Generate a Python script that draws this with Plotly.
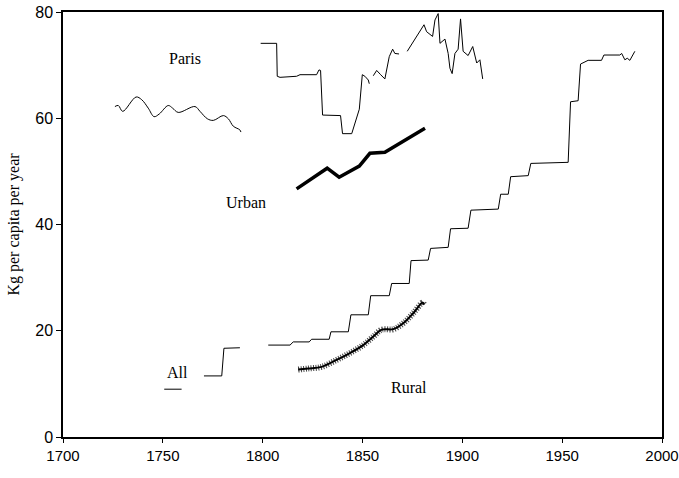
import plotly.graph_objects as go

# Paris, early series (smooth)
paris_early_years = [1726.0, 1727.7, 1729.9, 1736.6, 1739.4, 1742.7, 1745.6, 1748.2, 1752.7, 1754.9,
                     1757.7, 1766.1, 1768.6, 1772.3, 1775.3, 1780.3, 1782.8, 1785.3, 1788.6, 1789.1]
paris_early_vals = [62.2, 62.4, 61.3, 64.0, 63.5, 61.9, 60.3, 60.8, 62.4, 61.9,
                    61.1, 62.2, 61.3, 59.9, 59.6, 60.5, 59.9, 58.5, 57.8, 57.4]

# Paris, 19th century series (three pieces, None = gap)
paris_late_years = [1799.0, 1807.0, 1807.3, 1808.7, 1817.0, 1818.7, 1827.0, 1828.2, 1829.0, 1830.0,
                    1839.0, 1840.0, 1844.6, 1846.7, 1848.4, 1849.9, 1851.2, 1852.9, 1853.4, None,
                    1855.4, 1857.1, 1859.1, 1861.2, 1863.4, 1865.1, 1866.2, 1868.3, None,
                    1872.4, 1880.8, 1882.1, 1885.1, 1886.3, 1887.9, 1888.8, 1891.3, 1892.9, 1893.8,
                    1894.9, 1896.3, 1897.9, 1899.1, 1900.4, 1902.9, 1905.2, 1907.2, 1908.8, 1910.2]
paris_late_vals = [74.1, 74.1, 67.9, 67.7, 67.9, 68.2, 68.2, 69.1, 69.0, 60.6,
                   60.5, 57.1, 57.1, 59.7, 61.7, 68.2, 67.9, 67.2, 66.5, None,
                   68.0, 69.0, 68.2, 67.4, 71.6, 73.0, 72.2, 72.1, None,
                   72.6, 77.6, 76.3, 75.4, 78.5, 79.7, 74.1, 74.9, 72.2, 69.4,
                   68.4, 72.2, 73.0, 78.7, 72.6, 71.8, 73.5, 70.4, 71.0, 67.4]

# Urban
urban_years = [1817.0, 1832.3, 1838.3, 1848.4, 1853.7, 1861.2, 1881.3]
urban_vals = [46.7, 50.6, 48.9, 51.0, 53.4, 53.6, 58.1]

# Rural
rural_years = [1817.8, 1822.8, 1829.5, 1837.0, 1843.7, 1850.4, 1855.4, 1859.6, 1865.4,
               1870.4, 1875.4, 1880.1, 1880.8]
rural_vals = [12.7, 12.9, 13.2, 14.5, 15.8, 17.3, 18.9, 20.2, 20.3, 21.4, 23.3, 25.3, 24.9]

# All (stepped, with gaps)
all_years = [1750.7, 1759.4, None,
             1770.6, 1779.5, 1780.6, 1788.6, None,
             1802.8, 1813.7, 1815.3, 1823.3, 1824.5, 1833.3, 1834.2, 1842.9, 1844.2, 1852.9,
             1854.1, 1863.4, 1864.6, 1873.4, 1874.3, 1882.9, 1884.1, 1892.9, 1894.1, 1902.9,
             1904.3, 1918.0, 1919.2, 1923.0, 1924.2, 1933.0, 1934.3, 1953.0, 1954.2, 1958.0,
             1959.2, 1963.0, 1969.7, 1970.9, 1978.9, 1979.8, 1981.4, 1982.6, 1983.9, 1985.3, 1986.4]
all_vals = [9.0, 9.0, None,
            11.5, 11.5, 16.7, 16.8, None,
            17.3, 17.3, 17.9, 17.9, 18.4, 18.4, 19.8, 19.8, 23.0, 23.0,
            26.6, 26.6, 28.9, 28.9, 33.2, 33.3, 35.5, 35.7, 39.2, 39.3,
            42.7, 42.9, 45.7, 45.7, 49.0, 49.2, 51.5, 51.7, 63.1, 63.3,
            70.2, 70.9, 70.9, 71.9, 71.9, 72.2, 71.0, 71.3, 70.9, 71.9, 72.6]

labels = ['Paris', 'Urban', 'All', 'Rural']
label_x = [1761.0, 1791.5, 1757.5, 1873.5]
label_y = [71.3, 44.1, 12.1, 9.3]

fig = go.Figure()

fig.add_trace(go.Scatter(x=paris_early_years, y=paris_early_vals, mode='lines',
                         line=dict(color='black', width=1, shape='spline')))
fig.add_trace(go.Scatter(x=paris_late_years, y=paris_late_vals, mode='lines',
                         line=dict(color='black', width=1), connectgaps=False))
fig.add_trace(go.Scatter(x=urban_years, y=urban_vals, mode='lines',
                         line=dict(color='black', width=3.5)))
# rural: hatched look = dashed wide underlay + solid core
fig.add_trace(go.Scatter(x=rural_years, y=rural_vals, mode='lines',
                         line=dict(color='#444444', width=6, dash='1px,1.5px', shape='spline')))
fig.add_trace(go.Scatter(x=rural_years, y=rural_vals, mode='lines',
                         line=dict(color='black', width=2, shape='spline')))
fig.add_trace(go.Scatter(x=all_years, y=all_vals, mode='lines',
                         line=dict(color='black', width=1), connectgaps=False))

for txt, lx, ly in zip(labels, label_x, label_y):
    fig.add_annotation(x=lx, y=ly, text=txt, showarrow=False,
                       font=dict(family='Liberation Serif', size=16, color='black'))

fig.update_layout(
    width=679, height=478,
    margin=dict(l=63, r=17, t=12, b=41),
    paper_bgcolor='white', plot_bgcolor='white',
    showlegend=False,
    font=dict(family='Liberation Sans', size=16, color='black'),
)
fig.update_xaxes(range=[1700, 2000], dtick=50, tick0=1700, showgrid=False, zeroline=False,
                 showline=True, linecolor='black', linewidth=1.5, mirror=True,
                 ticks='outside', ticklen=4, tickcolor='black', automargin=False,
                 tickfont=dict(size=15))
fig.update_yaxes(range=[0, 80], dtick=20, showgrid=False, zeroline=False,
                 showline=True, linecolor='black', linewidth=1.5, mirror=True,
                 ticks='outside', ticklen=5, tickcolor='black', automargin=False,
                 title=dict(text='Kg per capita per year', standoff=12,
                            font=dict(family='Liberation Serif', size=16)))

# drop the default 8px page margin so the figure fills the window
fig.write_html("out.html", config={'displayModeBar': False},
               post_script="document.body.style.margin='0';")
